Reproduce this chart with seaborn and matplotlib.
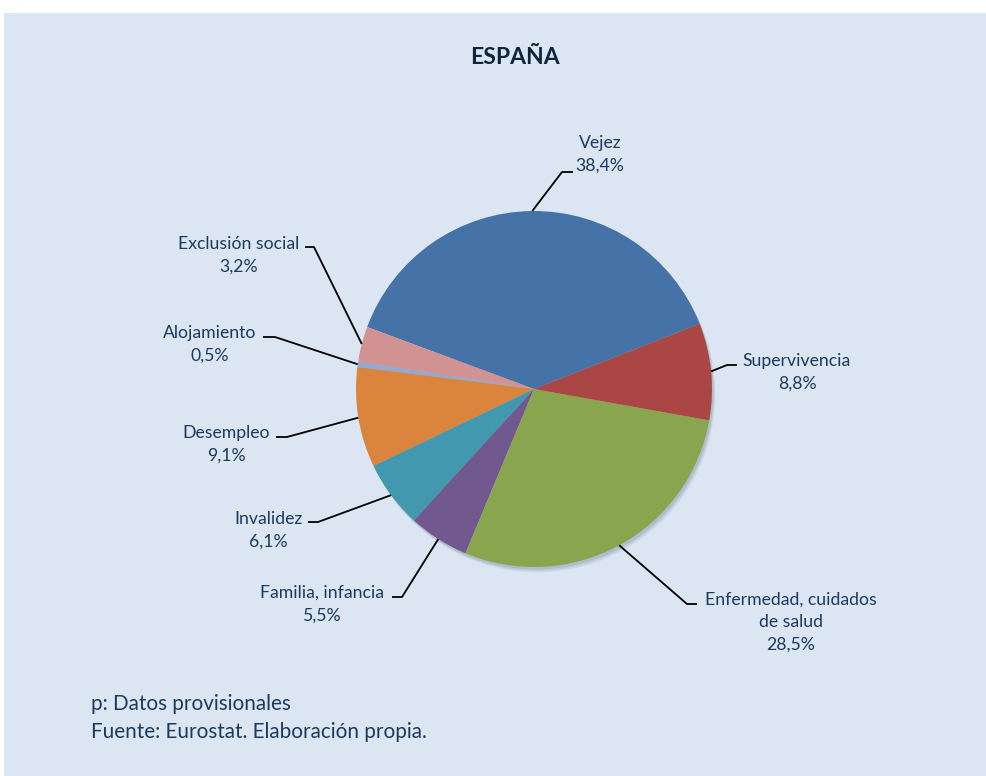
import matplotlib
matplotlib.use('Agg')
import matplotlib.pyplot as plt
from matplotlib.patches import Rectangle
import numpy as np
import seaborn as sns

# Data (counter-clockwise from the Vejez / Supervivencia boundary)
categories = ['Vejez', 'Exclusión social', 'Alojamiento', 'Desempleo',
              'Invalidez', 'Familia, infancia', 'Enfermedad, cuidados\nde salud',
              'Supervivencia']
shares = [38.4, 3.2, 0.5, 9.1, 6.1, 5.5, 28.5, 8.8]
share_labels = ['38,4%', '3,2%', '0,5%', '9,1%', '6,1%', '5,5%', '28,5%', '8,8%']
colors = ['#4572A7', '#D19392', '#93A9CF', '#DB843D',
          '#4198AF', '#71588F', '#89A54E', '#AA4643']

# label layout in image pixels: (elbow, end of stub, text centre)
label_layout = [
    ((562, 172), (573, 172), (600, 154)),
    ((314, 247), (305, 247), (239, 255)),
    ((275, 337), (263, 337), (210, 344)),
    ((287, 437), (276, 437), (226, 444)),
    ((318, 522), (308, 522), (268, 530)),
    ((402, 597), (392, 597), (322, 604)),
    ((687, 604), (697, 604), (791, 622)),
    ((727, 365), (737, 365), (797, 372)),
]

W, H = 987, 776
CX, CY, R = 534, 389, 178   # pie centre / radius in pixels


def px(x, y):
    return (x - CX) / R, (CY - y) / R


sns.set_theme(style="white")
plt.rcParams['font.family'] = ['Lato', 'DejaVu Sans']
txt_color = '#1A3A5E'

fig = plt.figure(figsize=(W / 100, H / 100), dpi=100)
fig.patch.set_facecolor('white')
fig.patches.append(Rectangle((4 / W, 0), 1, (H - 13) / H, transform=fig.transFigure,
                             facecolor='#DCE6F2', edgecolor='none', zorder=-10))

ax = fig.add_axes([0, 0, 1, 1])
ax.set_facecolor('none')
ax.set_zorder(1)

# soft shadow
for k, a in zip([0.03, 0.022, 0.014], [0.10, 0.12, 0.15]):
    ax.add_patch(plt.Circle((k * 0.6, -k), 1.0, color='#5a6a80', alpha=a, lw=0, zorder=1))

wedges, _ = ax.pie(shares, colors=colors, startangle=21.5, counterclock=True,
                   radius=1, wedgeprops=dict(linewidth=0))
for w in wedges:
    w.set_zorder(2)

for w, cat, lab, (elbow, end, tc) in zip(wedges, categories, share_labels, label_layout):
    ang = np.deg2rad((w.theta1 + w.theta2) / 2)
    sx, sy = np.cos(ang), np.sin(ang)
    ex, ey = px(*elbow)
    nx, ny = px(*end)
    ax.plot([sx, ex, nx], [sy, ey, ny], color='black', lw=1.3, zorder=3,
            solid_capstyle='butt')
    tx, ty = px(*tc)
    ax.text(tx, ty, f'{cat}\n{lab}', ha='center', va='center', multialignment='center',
            fontsize=12.7, color=txt_color, linespacing=1.5)

ax.set_xlim(-CX / R, (W - CX) / R)
ax.set_ylim(-(H - CY) / R, CY / R)
ax.set_aspect('auto')
ax.axis('off')

fig.text(515 / W, 1 - 57 / H, 'ESPAÑA', ha='center', va='center', fontsize=16.5,
         fontweight='bold', color='#0F243E')
fig.text(91 / W, 1 - 718 / H, 'p: Datos provisionales\nFuente: Eurostat. Elaboración propia.',
         ha='left', va='center', fontsize=14.9, color=txt_color, linespacing=1.55)

fig.savefig('out.png', dpi=100, facecolor=fig.get_facecolor())
